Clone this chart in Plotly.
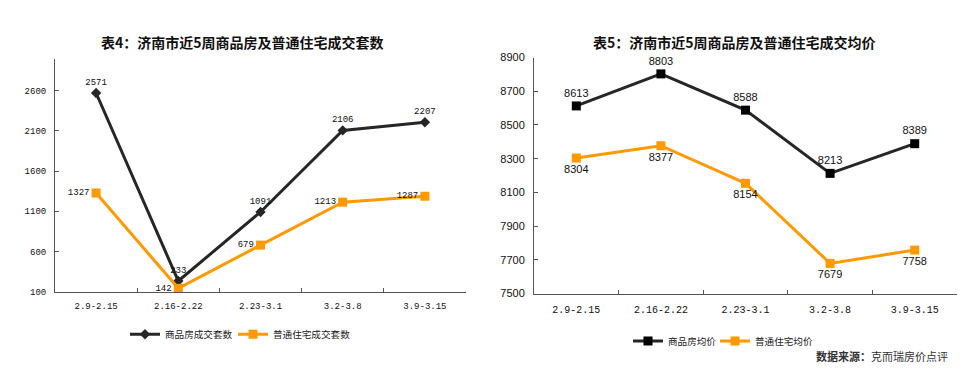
import plotly.graph_objects as go

weeks = ["2.9-2.15", "2.16-2.22", "2.23-3.1", "3.2-3.8", "3.9-3.15"]
units_commercial = [2571, 233, 1091, 2106, 2207]
units_ordinary = [1327, 142, 679, 1213, 1287]
price_commercial = [8613, 8803, 8588, 8213, 8389]
price_ordinary = [8304, 8377, 8154, 7679, 7758]
left_yticks = [100, 600, 1100, 1600, 2100, 2600]
right_yticks = [7500, 7700, 7900, 8100, 8300, 8500, 8700, 8900]

BLACK = "#262626"
ORANGE = "#FF9900"
W, H = 978, 369
OFF = 8  # page body margin
MONO = "Liberation Mono, DejaVu Sans Mono, monospace"
SANS = "Liberation Sans, Arial, sans-serif"
CJK = "Noto Sans CJK SC, sans-serif"


def px(x):
    return (x - OFF) / W


def py(y):
    return 1 - (y - OFF) / H


fig = go.Figure()

fig.add_trace(go.Scatter(
    x=weeks, y=units_commercial, name="商品房成交套数", mode="lines+markers+text",
    line=dict(color=BLACK, width=3), marker=dict(symbol="diamond", size=8, color=BLACK),
    text=[str(v) for v in units_commercial], textposition="top center",
    textfont=dict(family=MONO, size=9, color="#111"), cliponaxis=False,
    xaxis="x", yaxis="y", legend="legend"))
fig.add_trace(go.Scatter(
    x=weeks, y=units_ordinary, name="普通住宅成交套数", mode="lines+markers+text",
    line=dict(color=ORANGE, width=3), marker=dict(symbol="square", size=9, color=ORANGE),
    text=[str(v) for v in units_ordinary], textposition="middle left",
    textfont=dict(family=MONO, size=9, color="#111"), cliponaxis=False,
    xaxis="x", yaxis="y", legend="legend2"))
fig.add_trace(go.Scatter(
    x=weeks, y=price_commercial, name="商品房均价", mode="lines+markers+text",
    line=dict(color=BLACK, width=3), marker=dict(symbol="square", size=9, color="#000"),
    text=[str(v) for v in price_commercial], textposition="top center",
    textfont=dict(family=SANS, size=11, color="#111"), cliponaxis=False,
    xaxis="x2", yaxis="y2", legend="legend3"))
fig.add_trace(go.Scatter(
    x=weeks, y=price_ordinary, name="普通住宅均价", mode="lines+markers+text",
    line=dict(color=ORANGE, width=3), marker=dict(symbol="square", size=9, color=ORANGE),
    text=[str(v) for v in price_ordinary], textposition="bottom center",
    textfont=dict(family=SANS, size=11, color="#111"), cliponaxis=False,
    xaxis="x2", yaxis="y2", legend="legend4"))

axcommon = dict(showgrid=False, zeroline=False, showline=True, linecolor="#555",
                linewidth=1, ticks="inside", ticklen=4, tickcolor="#555")


def leg(x, y):
    return dict(orientation="h", x=px(x), y=py(y), xanchor="left", yanchor="middle",
                font=dict(family=CJK, size=9.6, color="#222"), bgcolor="rgba(0,0,0,0)")


fig.update_layout(
    width=W, height=H, margin=dict(l=0, r=0, t=0, b=0),
    paper_bgcolor="white", plot_bgcolor="white",
    xaxis=dict(domain=[px(55), px(466)], anchor="y", type="category",
               categoryorder="array", categoryarray=weeks, range=[-0.5, 4.5],
               tickson="boundaries", tickfont=dict(family=MONO, size=9, color="#111"),
               ticklabelstandoff=6, **axcommon),
    yaxis=dict(domain=[py(295), py(54)], anchor="x", range=[100, 3000],
               tickvals=left_yticks, tickfont=dict(family=MONO, size=9, color="#111"),
               ticklabelstandoff=6, **axcommon),
    xaxis2=dict(domain=[px(534), px(957)], anchor="y2", type="category",
                categoryorder="array", categoryarray=weeks, range=[-0.5, 4.5],
                tickson="boundaries", tickfont=dict(family=MONO, size=10, color="#111"),
                ticklabelstandoff=6, **axcommon),
    yaxis2=dict(domain=[py(297), py(53)], anchor="x2", range=[7500, 8900],
                tickvals=right_yticks, tickfont=dict(family=SANS, size=11, color="#111"),
                ticklabelstandoff=6, **axcommon),
    legend=leg(125, 339),
    legend2=leg(233, 339),
    legend3=leg(628, 346),
    legend4=leg(715, 346),
    showlegend=True,
)

fig.add_annotation(text="<b>表4：济南市近5周商品房及普通住宅成交套数</b>", x=px(242), y=py(37),
                   xref="paper", yref="paper", showarrow=False, xanchor="center", yanchor="middle",
                   font=dict(family=CJK, size=14, color="#111"))
fig.add_annotation(text="<b>表5：济南市近5周商品房及普通住宅成交均价</b>", x=px(734), y=py(37),
                   xref="paper", yref="paper", showarrow=False, xanchor="center", yanchor="middle",
                   font=dict(family=CJK, size=14, color="#111"))
fig.add_annotation(text="<b>数据来源：</b>克而瑞房价点评", x=px(950), y=py(361),
                   xref="paper", yref="paper", showarrow=False, xanchor="right", yanchor="middle",
                   font=dict(family=CJK, size=11, color="#333"))

fig.write_html("out.html")
